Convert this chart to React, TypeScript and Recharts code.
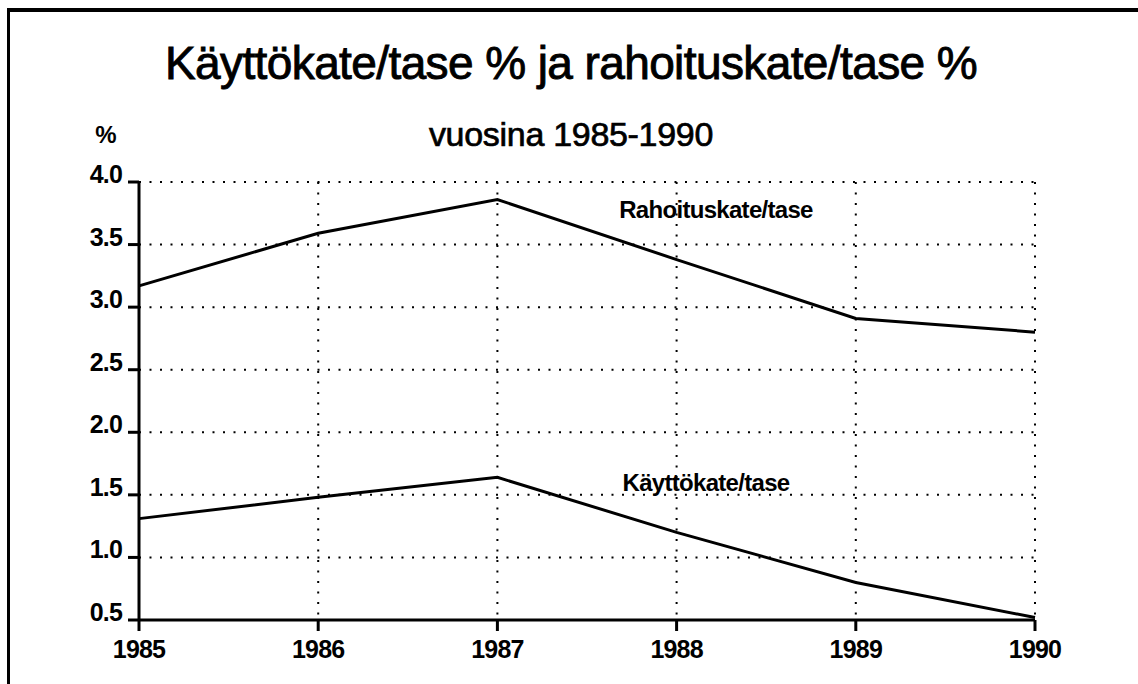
import React from "react";
import { LineChart, Line, XAxis, YAxis, CartesianGrid } from "recharts";

const years = [1985, 1986, 1987, 1988, 1989, 1990];
const rahoituskate = [3.17, 3.59, 3.86, 3.38, 2.91, 2.8];
const kayttokate = [1.31, 1.48, 1.64, 1.2, 0.8, 0.52];
const yTicks = [0.5, 1.0, 1.5, 2.0, 2.5, 3.0, 3.5, 4.0];

const FONT = '"Liberation Sans", Arial, Helvetica, sans-serif';

const data = years.map((year, i) => ({
  year,
  rahoitus: rahoituskate[i],
  kaytto: kayttokate[i],
}));

const YTick = (props: any) => {
  const { x, y, payload } = props;
  return (
    <text
      x={x}
      y={y}
      dy={1}
      textAnchor="end"
      fontFamily={FONT}
      fontWeight="bold"
      fontSize={25}
      letterSpacing={-0.8}
      fill="#000"
    >
      {Number(payload.value).toFixed(1)}
    </text>
  );
};

const XTick = (props: any) => {
  const { x, y, payload } = props;
  return (
    <text
      x={x}
      y={y}
      dy={21}
      textAnchor="middle"
      fontFamily={FONT}
      fontWeight="bold"
      fontSize={25}
      letterSpacing={-0.8}
      fill="#000"
    >
      {payload.value}
    </text>
  );
};

export default function App() {
  return (
    <div
      style={{
        position: "absolute",
        left: 0,
        top: 0,
        width: 1138,
        height: 684,
        background: "#fff",
        overflow: "hidden",
      }}
    >
      {/* frame, only top and left edges show in the crop */}
      <div
        style={{
          position: "absolute",
          left: 7,
          top: 8,
          width: 1200,
          height: 800,
          borderTop: "4px solid #000",
          borderLeft: "3px solid #000",
        }}
      />
      <div style={{ position: "absolute", left: 0, top: 0 }}>
        <LineChart
          width={1138}
          height={684}
          data={data}
          margin={{ top: 182, right: 103, bottom: 24, left: 79 }}
        >
          <CartesianGrid
            stroke="#000"
            strokeWidth={2}
            strokeDasharray="2 8.5"
          />
          <XAxis
            dataKey="year"
            type="number"
            domain={[1985, 1990]}
            ticks={years}
            height={40}
            tickSize={11}
            tickMargin={6}
            axisLine={{ stroke: "#000", strokeWidth: 3 }}
            tickLine={{ stroke: "#000", strokeWidth: 3 }}
            tick={<XTick />}
            interval={0}
          />
          <YAxis
            type="number"
            domain={[0.5, 4]}
            ticks={yTicks}
            width={60}
            tickSize={11}
            tickMargin={6}
            axisLine={{ stroke: "#000", strokeWidth: 3 }}
            tickLine={{ stroke: "#000", strokeWidth: 3 }}
            tick={<YTick />}
            interval={0}
            allowDataOverflow
          />
          <Line
            dataKey="rahoitus"
            stroke="#000"
            strokeWidth={3}
            dot={false}
            isAnimationActive={false}
          />
          <Line
            dataKey="kaytto"
            stroke="#000"
            strokeWidth={3}
            dot={false}
            isAnimationActive={false}
          />
        </LineChart>
      </div>
      <svg
        width={1138}
        height={684}
        style={{ position: "absolute", left: 0, top: 0, pointerEvents: "none" }}
      >
        <text
          x={571}
          y={79}
          textAnchor="middle"
          fontFamily={FONT}
          fontSize={46}
          letterSpacing={-0.6}
          fill="#000"
          stroke="#000"
          strokeWidth={0.9}
        >
          Käyttökate/tase % ja rahoituskate/tase %
        </text>
        <text
          x={571}
          y={146}
          textAnchor="middle"
          fontFamily={FONT}
          fontSize={34}
          letterSpacing={-0.3}
          fill="#000"
          stroke="#000"
          strokeWidth={0.7}
        >
          vuosina 1985-1990
        </text>
        <text
          x={106}
          y={143}
          textAnchor="middle"
          fontFamily={FONT}
          fontWeight="bold"
          fontSize={24}
          fill="#000"
        >
          %
        </text>
        <text
          x={716}
          y={218}
          textAnchor="middle"
          fontFamily={FONT}
          fontWeight="bold"
          fontSize={24}
          letterSpacing={-0.7}
          fill="#000"
        >
          Rahoituskate/tase
        </text>
        <text
          x={706}
          y={491}
          textAnchor="middle"
          fontFamily={FONT}
          fontWeight="bold"
          fontSize={24}
          letterSpacing={-0.7}
          fill="#000"
        >
          Käyttökate/tase
        </text>
      </svg>
    </div>
  );
}
